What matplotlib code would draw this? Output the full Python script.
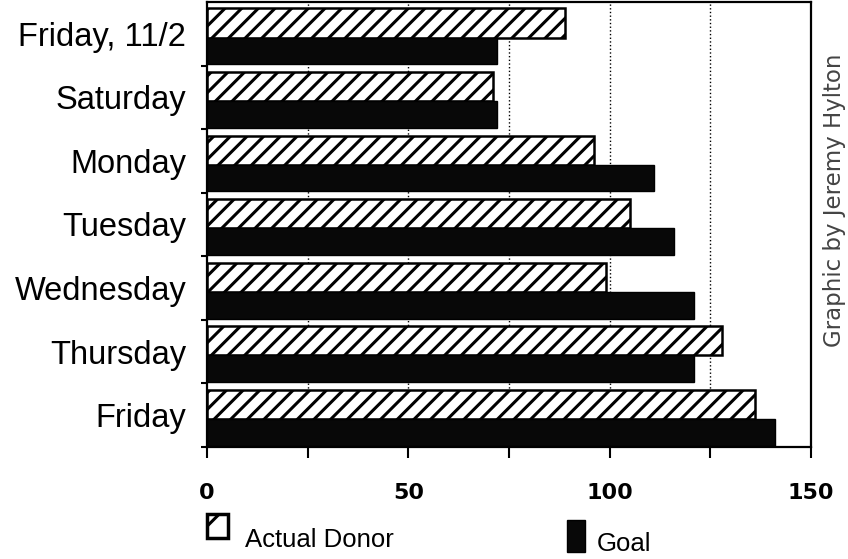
import matplotlib.pyplot as plt
import numpy as np

# data
days = ["Friday, 11/2", "Saturday", "Monday", "Tuesday", "Wednesday", "Thursday", "Friday"]
actual = [89, 71, 96, 105, 99, 128, 136]
goal = [72, 72, 111, 116, 121, 121, 141]
xticks = [0, 50, 100, 150]
xtick_labels = ["0", "50", "100", "150"]

plt.rcParams['font.family'] = ['Liberation Sans', 'DejaVu Sans']
plt.rcParams['hatch.linewidth'] = 2.2

fig = plt.figure(figsize=(8.48, 5.59), dpi=100)
ax = fig.add_axes([0.2441, 0.2004, 0.7123, 0.7960])

y = np.arange(len(days))

# vertical dotted gridlines behind the bars
for gx in [25, 50, 75, 100, 125]:
    ax.axvline(gx, color="black", linestyle=":", linewidth=1.0, zorder=0)

ax.barh(y - 0.17, actual, height=0.46, color="white", edgecolor="black",
        hatch="//", linewidth=1.8, zorder=2)
ax.barh(y + 0.27, goal, height=0.42, color="#080808", edgecolor="black",
        linewidth=1.0, zorder=2)

ax.set_xlim(0, 150)
ax.set_ylim(len(days) - 0.5, -0.5)

ax.set_xticks(xticks)
ax.set_xticklabels(xtick_labels, fontsize=16, fontweight="bold", family="DejaVu Sans")
ax.set_xticks([25, 75, 125], minor=True)
ax.tick_params(axis="x", which="both", direction="out", length=8, width=1.5, pad=18)

ax.set_yticks(y)
ax.set_yticklabels(days, fontsize=23.5)
ax.set_yticks(np.arange(len(days)) + 0.5, minor=True)
ax.tick_params(axis="y", which="major", length=0, pad=15)
ax.tick_params(axis="y", which="minor", direction="out", length=4, width=1.5)

for s in ax.spines.values():
    s.set_linewidth(1.6)

# legend drawn by hand below the axis
fig.patches.append(plt.Rectangle((207 / 848, 1 - 538 / 559), 21 / 848, 24 / 559,
                                 transform=fig.transFigure, facecolor="white",
                                 edgecolor="black", hatch="/", linewidth=2.5))
fig.text(245 / 848, 1 - 540 / 559, "Actual Donor", fontsize=18.5, va="center", ha="left")
fig.patches.append(plt.Rectangle((567 / 848, 1 - 552 / 559), 18 / 848, 32 / 559,
                                 transform=fig.transFigure, facecolor="#080808",
                                 edgecolor="black"))
fig.text(597 / 848, 1 - 544 / 559, "Goal", fontsize=18.5, va="center", ha="left")

fig.text(834 / 848, 1 - 200 / 559, "Graphic by Jeremy Hylton", rotation=90,
         fontsize=16.5, color="#444444", va="center", ha="center", family="DejaVu Sans")

fig.savefig("out.png", dpi=100)
